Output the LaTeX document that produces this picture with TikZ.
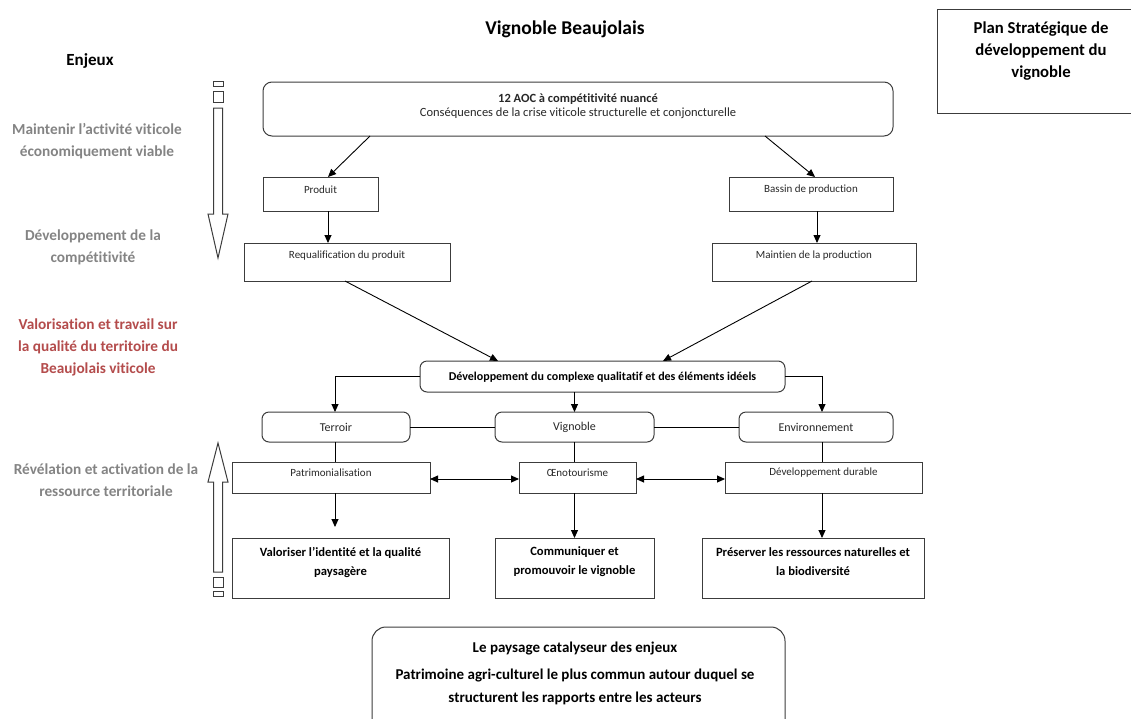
\documentclass[tikz,border=0pt]{standalone}
\usepackage{fontspec}
\setmainfont{Carlito}[Ligatures=NoCommon]
\usetikzlibrary{arrows.meta,calc}
\definecolor{linec}{RGB}{60,60,60}
\definecolor{enjeugray}{RGB}{132,132,132}
\definecolor{enjeured}{RGB}{180,76,76}
\definecolor{txtc}{RGB}{40,40,40}
\tikzset{
  bx/.style={draw=linec, line width=1pt, inner sep=0pt, outer sep=0pt, fill=white},
  rbx/.style={bx, rounded corners=7pt},
  smalltxt/.style={inner sep=0pt, text=txtc, font=\fontsize{11}{13}\selectfont},
  midtxt/.style={inner sep=0pt, text=txtc, font=\fontsize{12}{14}\selectfont},
  boldtxt/.style={inner sep=0pt, text=black, align=center, font=\bfseries\fontsize{12.6}{19}\selectfont},
  enjeu/.style={inner sep=0pt, align=center, text=enjeugray, font=\bfseries\fontsize{15.3}{22}\selectfont},
  conn/.style={draw=black, line width=0.9pt},
  arr/.style={conn, -{Triangle[length=8pt,width=7pt]}},
  darr/.style={conn, {Triangle[length=8pt,width=7pt]}-{Triangle[length=8pt,width=7pt]}},
  blockarr/.style={draw=linec, line width=1pt, fill=white}
}
\begin{document}
\begin{tikzpicture}[x=1pt,y=-1pt]
\useasboundingbox (0,0) rectangle (1131,718);
\fill[white] (0,0) rectangle (1131,718);

% titles
\node[inner sep=0pt, font=\bfseries\fontsize{19.5}{22}\selectfont] (title) at (565,29) {Vignoble Beaujolais};
\node[inner sep=0pt, font=\bfseries\fontsize{17}{20}\selectfont] (enjeux) at (90,61) {Enjeux};

% plan box (cut by right edge)
\node[bx, minimum width=210pt, minimum height=104pt, anchor=north west] (plan) at (937,9) {};
\node[inner sep=0pt, align=center, font=\bfseries\fontsize{16.7}{22}\selectfont] (plantxt) at (1041,51) {Plan Stratégique de\\développement du\\vignoble};

% left enjeux
\node[enjeu] (e1) at (97,141) {Maintenir l’activité viticole\\économiquement viable};
\node[enjeu] (e2) at (93,247) {Développement de la\\compétitivité};
\node[enjeu, text=enjeured] (e3) at (98,347.5) {Valorisation et travail sur\\la qualité du territoire du\\Beaujolais viticole};
\node[enjeu] (e4) at (106,480) {Révélation et activation de la\\ressource territoriale};

% block arrows
\draw[blockarr] (213,81) rectangle (223,86);
\draw[blockarr] (213,91) rectangle (223,102);
\draw[blockarr] (213.5,108) -- (222.5,108) -- (222.5,214) -- (228,214) -- (218,258) -- (208,214) -- (213.5,214) -- cycle;
\draw[blockarr] (213.5,572) -- (222.5,572) -- (222.5,482) -- (228,482) -- (218,443) -- (208,482) -- (213.5,482) -- cycle;
\draw[blockarr] (213,577) rectangle (223,587);
\draw[blockarr] (213,591) rectangle (223,596);

% main box
\node[rbx, rounded corners=9pt, minimum width=630pt, minimum height=54pt] (main) at (578,109) {};
\node[inner sep=0pt, align=center, text=txtc, font=\fontsize{12.5}{14.5}\selectfont] (maintxt) at (578,106) {\textbf{12 AOC à compétitivité nuancé}\\Conséquences de la crise viticole structurelle et conjoncturelle};

% second level
\node[bx, minimum width=115pt, minimum height=34pt] (prod) at (320.5,194) {};
\node[smalltxt] (prodtxt) at (320.5,190) {Produit};
\node[bx, minimum width=164pt, minimum height=34pt] (bassin) at (811,194) {};
\node[smalltxt] (bassintxt) at (811,190) {Bassin de production};

\node[bx, minimum width=206pt, minimum height=38pt] (requal) at (347,262) {};
\node[smalltxt] (requaltxt) at (347,256) {Requalification du produit};
\node[bx, minimum width=204pt, minimum height=38pt] (maint) at (814,262) {};
\node[smalltxt] (mainttxt) at (814,256) {Maintien de la production};

% development box
\node[rbx, minimum width=365pt, minimum height=31pt] (dev) at (602.5,376.5) {};
\node[inner sep=0pt, text=black, font=\bfseries\fontsize{12}{14}\selectfont] (devtxt) at (602.5,377) {Développement du complexe qualitatif et des éléments idéels};

% third row
\node[rbx, minimum width=148pt, minimum height=30pt] (terroir) at (336,427) {};
\node[midtxt] (terroirtxt) at (336,427) {Terroir};
\node[rbx, minimum width=159pt, minimum height=30pt] (vign) at (574.5,427) {};
\node[midtxt] (vigntxt) at (574.5,427) {Vignoble};
\node[rbx, minimum width=154pt, minimum height=30pt] (env) at (816,427) {};
\node[midtxt] (envtxt) at (816,427) {Environnement};

% fourth row
\node[bx, minimum width=198pt, minimum height=31pt] (patrim) at (331,477.5) {};
\node[smalltxt] (patrimtxt) at (331,473) {Patrimonialisation};
\node[bx, minimum width=117pt, minimum height=31pt] (oeno) at (577.5,477.5) {};
\node[smalltxt] (oenotxt) at (577.5,473) {Œnotourisme};
\node[bx, minimum width=197pt, minimum height=31pt] (dd) at (823.5,477.5) {};
\node[smalltxt] (ddtxt) at (823.5,473) {Développement durable};

% fifth row
\node[bx, minimum width=217pt, minimum height=60pt] (valo) at (340.5,568) {};
\node[boldtxt] (valotxt) at (340.5,562) {Valoriser l’identité et la qualité\\paysagère};
\node[bx, minimum width=159pt, minimum height=60pt] (comm) at (574.5,568) {};
\node[boldtxt] (commtxt) at (574.5,562) {Communiquer et\\promouvoir le vignoble};
\node[bx, minimum width=222pt, minimum height=60pt] (pres) at (813,568) {};
\node[boldtxt] (prestxt) at (813,562) {Préserver les ressources naturelles et\\la biodiversité};

% bottom box (cut by lower edge)
\node[rbx, rounded corners=14pt, minimum width=413pt, minimum height=120pt, anchor=north] (paysage) at (578.5,627) {};
\node[inner sep=0pt, align=center, text=black, font=\bfseries\fontsize{15}{23}\selectfont] (paysagetxt) at (575,673) {Le paysage catalyseur des enjeux\\[4pt]Patrimoine agri-culturel le plus commun autour duquel se\\structurent les rapports entre les acteurs};

% connectors
\draw[arr] ($(main.south west)+(107,0)$) -- ($(prod.north)+(7.5,0)$);
\draw[arr] ($(main.south west)+(502,0)$) -- ($(bassin.north)+(4,0)$);
\draw[arr] ($(prod.south)+(7.5,0)$) -- ($(requal.north)+(-19,0)$);
\draw[arr] ($(bassin.south)+(6,0)$) -- ($(maint.north)+(3,0)$);
\draw[arr] ($(requal.south)+(-2,0)$) -- ($(dev.north west)+(78,0)$);
\draw[arr] ($(maint.south)+(-2,0)$) -- ($(dev.north west)+(243,0)$);

\draw[arr] (dev.west) -| (terroir.north -| 335,0);
\draw[arr] (dev.east) -| (env.north -| 822,0);
\draw[arr] (dev.south -| vign.north) -- (vign.north);

\draw[conn] (terroir.east) -- (vign.west);
\draw[conn] (vign.east) -- (env.west);
\draw[conn] (terroir.south -| 335,0) -- (patrim.north -| 335,0);
\draw[conn] (vign.south) -- (oeno.north -| vign.south);
\draw[conn] (env.south -| 822,0) -- (dd.north -| 822,0);

\draw[darr] ($(patrim.east)+(0,1.5)$) -- ($(oeno.west)+(0,1.5)$);
\draw[darr] ($(oeno.east)+(0,1.5)$) -- ($(dd.west)+(0,1.5)$);

\coordinate (patrimend) at (335,527);
\draw[arr] (patrim.south -| 335,0) -- (patrimend);
\draw[arr] (oeno.south -| vign.south) -- (comm.north -| vign.south);
\draw[arr] (dd.south -| 822,0) -- (pres.north -| 822,0);
\end{tikzpicture}
\end{document}
